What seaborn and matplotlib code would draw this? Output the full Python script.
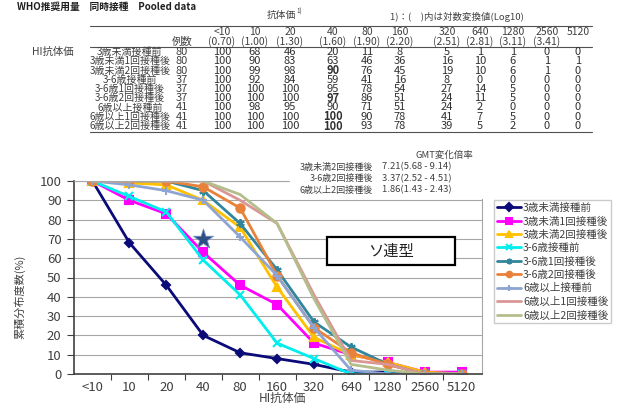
import matplotlib
matplotlib.use("Agg")
import matplotlib.pyplot as plt
import numpy as np
import pandas as pd
import seaborn as sns
from matplotlib.lines import Line2D
from matplotlib.patches import Rectangle
from matplotlib.ticker import FixedLocator

# ---- data ----
TITERS = ["<10", "10", "20", "40", "80", "160", "320", "640", "1280", "2560", "5120"]
LOG_VALUES = ["(0.70)", "(1.00)", "(1.30)", "(1.60)", "(1.90)", "(2.20)",
              "(2.51)", "(2.81)", "(3.11)", "(3.41)", ""]
GROUPS = ["3歳未満接種前", "3歳未満1回接種後", "3歳未満2回接種後",
          "3-6歳接種前", "3-6歳1回接種後", "3-6歳2回接種後",
          "6歳以上接種前", "6歳以上1回接種後", "6歳以上2回接種後"]
N_CASES = [80, 80, 80, 37, 37, 37, 41, 41, 41]

under3_pre = [100, 68, 46, 20, 11, 8, 5, 1, 1, 0, 0]
under3_dose1 = [100, 90, 83, 63, 46, 36, 16, 10, 6, 1, 1]
under3_dose2 = [100, 99, 98, 90, 76, 45, 19, 10, 6, 1, 0]
age3to6_pre = [100, 92, 84, 59, 41, 16, 8, 0, 0, 0, 0]
age3to6_dose1 = [100, 100, 100, 95, 78, 54, 27, 14, 5, 0, 0]
age3to6_dose2 = [100, 100, 100, 97, 86, 51, 24, 11, 5, 0, 0]
over6_pre = [100, 98, 95, 90, 71, 51, 24, 2, 0, 0, 0]
over6_dose1 = [100, 100, 100, 100, 90, 78, 41, 7, 5, 0, 0]
over6_dose2 = [100, 100, 100, 100, 93, 78, 39, 5, 2, 0, 0]
SERIES = [under3_pre, under3_dose1, under3_dose2, age3to6_pre, age3to6_dose1,
          age3to6_dose2, over6_pre, over6_dose1, over6_dose2]

GMT_GROUPS = ["3歳未満2回接種後", "3-6歳2回接種後", "6歳以上2回接種後"]
GMT_RATIOS = ["7.21(5.68 - 9.14)", "3.37(2.52 - 4.51)", "1.86(1.43 - 2.43)"]

STAR_TITER = "40"
STAR_VALUE = 70

# ---- style ----
COLORS = ["#0A0A78", "#FF00FF", "#FFC000", "#00EEEE", "#31869B",
          "#E8823A", "#8EA4D2", "#D99694", "#B4BE8C"]
MARKERS = ["D", "s", "^", "x", (6, 2, 0), "o", "+", None, None]
MSIZES = [4.5, 5.5, 5.5, 5.5, 6, 6, 6, 0, 0]

W, H = 619, 405


def fx(x):
    return x / W


def fy(y):
    return 1 - y / H


sns.set_theme(style="white")
plt.rcParams["font.family"] = ["Noto Sans CJK JP", "DejaVu Sans"]

fig = plt.figure(figsize=(W / 100, H / 100), dpi=100)
ax = fig.add_axes([fx(74), fy(374), (482 - 74) / W, (374 - 181) / H])

for name, vals, color, marker, ms in zip(GROUPS, SERIES, COLORS, MARKERS, MSIZES):
    df = pd.DataFrame({"titer": TITERS, "pct": vals})
    sns.lineplot(data=df, x="titer", y="pct", ax=ax, sort=False, color=color,
                 lw=2, marker=marker, markersize=ms, markeredgecolor=color,
                 markeredgewidth=1.5, label=name)

sns.scatterplot(x=[STAR_TITER], y=[STAR_VALUE], ax=ax, marker="*", s=230,
                color="#2F4E84", edgecolor="#6F8DBF", linewidth=0.6,
                legend=False, zorder=6)

ax.set_xlim(-0.5, 10.55)
ax.set_ylim(0, 100)
ax.set_yticks(np.arange(0, 101, 10))
ax.xaxis.set_minor_locator(FixedLocator(np.arange(0.5, 10.5, 1)))
ax.tick_params(axis="x", which="major", length=0, pad=5, labelsize=9.5,
               labelcolor="#404040")
ax.tick_params(axis="x", which="minor", length=4, color="#404040", width=0.8,
               direction="out", bottom=True)
ax.tick_params(axis="y", length=5, color="#404040", width=0.8, left=True,
               pad=4, labelsize=9.5, labelcolor="#404040")
ax.yaxis.grid(True, color="#A6A6A6", lw=0.8)
ax.xaxis.grid(False)
for side in ["left", "bottom"]:
    ax.spines[side].set_color("#404040")
    ax.spines[side].set_linewidth(1.2)
for side in ["right", "top"]:
    ax.spines[side].set_color("#A6A6A6")
    ax.spines[side].set_linewidth(0.8)

ax.set_xlabel("HI抗体価", fontsize=8.5, color="#404040", va="center")
ax.xaxis.set_label_coords(0.51, -0.128)
ax.set_ylabel("累積分布度数(%)", fontsize=8, color="#404040")
ax.yaxis.set_label_coords(-0.12, 0.40)

handles, labels = ax.get_legend_handles_labels()
leg = ax.legend(handles, labels, loc="upper left",
                bbox_to_anchor=(fx(494), fy(200)), bbox_transform=fig.transFigure,
                frameon=True, fancybox=False, edgecolor="#BFBFBF", fontsize=7.6,
                handlelength=2.3, handletextpad=0.15, labelspacing=0.3,
                borderpad=0.3, borderaxespad=0)
for t in leg.get_texts():
    t.set_color("#404040")
for h in leg.legend_handles:
    h.set_markersize(4)

# white box with GMT ratios over the top right of the plot
fig.add_artist(Rectangle((fx(290), fy(199)), (490 - 290) / W, (199 - 146) / H,
                         transform=fig.transFigure, facecolor="white",
                         edgecolor="none", zorder=5))
fig.text(fx(444), fy(155), "GMT変化倍率", fontsize=6.8, color="#404040",
         ha="center", va="center", zorder=6)
for i, (g, r) in enumerate(zip(GMT_GROUPS, GMT_RATIOS)):
    y = 167 + i * 11.5
    fig.text(fx(373), fy(y), g, fontsize=6.5, color="#404040",
             ha="right", va="center", zorder=6)
    fig.text(fx(382), fy(y), r, fontsize=6.8, color="#404040",
             ha="left", va="center", zorder=6)

# ソ連型 label box
fig.add_artist(Rectangle((fx(327), fy(265)), (455 - 327) / W, (265 - 237) / H,
                         transform=fig.transFigure, facecolor="white",
                         edgecolor="black", lw=1.6, zorder=5))
fig.text(fx(391), fy(251), "ソ連型", fontsize=11, color="#202020",
         ha="center", va="center", zorder=6)

# ---- table at the top ----
fig.text(fx(17), fy(7), "WHO推奨用量　同時接種　Pooled data", fontsize=7,
         fontweight="bold", color="#202020", ha="left", va="center")
fig.text(fx(281), fy(15), "抗体価", fontsize=7, color="#404040",
         ha="center", va="center")
fig.text(fx(296), fy(12), "1)", fontsize=4.5, color="#404040",
         ha="left", va="center")
fig.text(fx(390), fy(17), "1)：(　)内は対数変換値(Log10)", fontsize=6.8,
         color="#404040", ha="left", va="center")

for yy in [26, 47, 132]:
    fig.add_artist(Line2D([fx(90), fx(592)], [fy(yy), fy(yy)],
                          transform=fig.transFigure, color="#505050", lw=0.8))

COL_X = [222, 255, 290, 333, 367, 400, 447, 480, 513, 547, 578]
BOLD_CELLS = {(2, 3), (5, 3), (7, 3), (8, 3)}
fig.text(fx(182), fy(42), "例数", fontsize=7.5, color="#404040",
         ha="center", va="center")
for cx, t, lv in zip(COL_X, TITERS, LOG_VALUES):
    fig.text(fx(cx), fy(32), t, fontsize=7.5, color="#404040",
             ha="center", va="center")
    if lv:
        fig.text(fx(cx), fy(42), lv, fontsize=7.5, color="#404040",
                 ha="center", va="center")

fig.text(fx(32), fy(52), "HI抗体価", fontsize=7.5, color="#404040",
         ha="left", va="center")
for i, (g, n, vals) in enumerate(zip(GROUPS, N_CASES, SERIES)):
    y = 52 + i * 9.25
    fig.text(fx(130), fy(y), g, fontsize=7.2, color="#404040",
             ha="center", va="center")
    fig.text(fx(182), fy(y), str(n), fontsize=8, color="#404040",
             ha="center", va="center")
    for j, (cx, v) in enumerate(zip(COL_X, vals)):
        fig.text(fx(cx), fy(y), str(v), fontsize=8, color="#303030",
                 ha="center", va="center",
                 fontweight="bold" if (i, j) in BOLD_CELLS else "normal")

fig.savefig("out.png", dpi=100)
